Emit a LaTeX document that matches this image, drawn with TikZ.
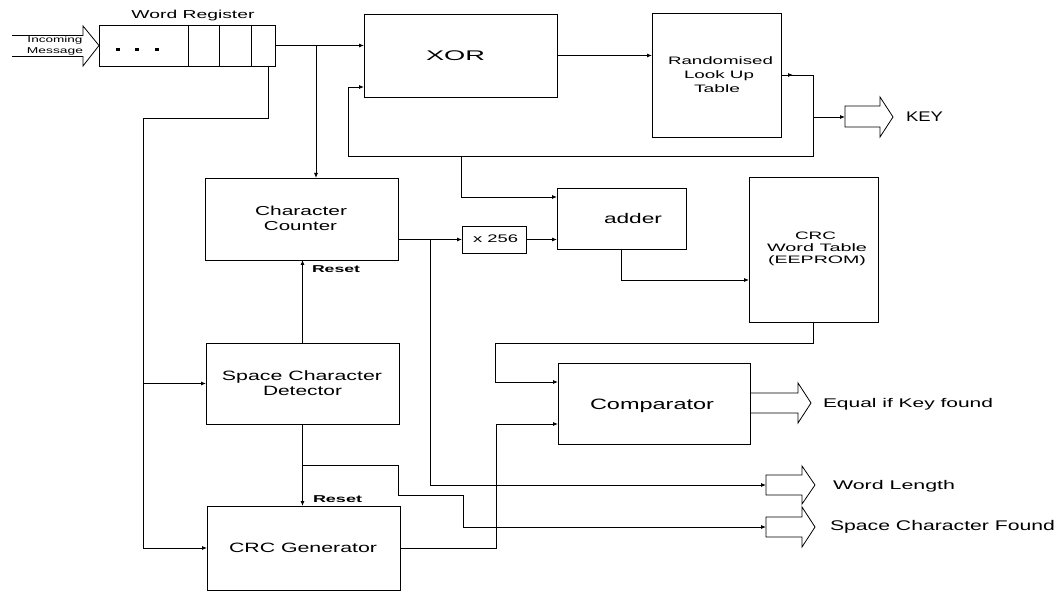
\documentclass[tikz,border=0pt]{standalone}
\usepackage{fontspec}
\setmainfont{Liberation Sans}
\usetikzlibrary{arrows.meta}
\newcommand{\sw}[2]{\resizebox{#1pt}{\height}{#2}}
\begin{document}
\begin{tikzpicture}[x=1pt,y=-1pt,line width=0.8pt,
  blk/.style={draw,inner sep=0pt,outer sep=0pt},
  arr/.style={-{Latex[length=5pt,width=4pt]}},
  lbl/.style={inner sep=0pt,outer sep=0pt},
  harrow/.style={draw,line join=miter}]
\fill[white] (0,0) rectangle (1059,593);
\useasboundingbox (0,0) rectangle (1059,593);

% ---------- boxes
\node[blk,minimum width=176pt,minimum height=41pt] (reg) at (187,45.5) {};
\node[blk,minimum width=193pt,minimum height=83pt] (xor) at (460.5,55.5) {};
\node[blk,minimum width=129pt,minimum height=124pt] (lut) at (716.5,75) {};
\node[blk,minimum width=193pt,minimum height=82pt] (cc) at (301.5,219) {};
\node[blk,minimum width=64pt,minimum height=27pt] (x256) at (494,239.5) {};
\node[blk,minimum width=129pt,minimum height=61pt] (adder) at (621.5,218.5) {};
\node[blk,minimum width=129pt,minimum height=145pt] (crct) at (813.5,249.5) {};
\node[blk,minimum width=193pt,minimum height=81pt] (scd) at (302.5,383.5) {};
\node[blk,minimum width=192pt,minimum height=81pt] (comp) at (654,403.5) {};
\node[blk,minimum width=193pt,minimum height=84pt] (crcg) at (303.5,548) {};

% register cells and dots
\foreach \x in {188,219,251} \draw (\x,25) -- (\x,66);
\foreach \x in {118,137,157} \fill (\x-2,48.5) rectangle ++(4,3);

% ---------- texts
\node[lbl,anchor=base,font=\fontsize{11.5}{14}\selectfont] (tReg) at (193,18.3) {\sw{123}{Word Register}};
\node[lbl,anchor=base,font=\fontsize{8.5}{11}\selectfont] (tInc1) at (55,42.7) {\sw{55}{Incoming}};
\node[lbl,anchor=base,font=\fontsize{8.5}{11}\selectfont] (tInc2) at (55,53.5) {\sw{56}{Message}};
\node[lbl,anchor=base,font=\fontsize{14}{16}\selectfont] (tXor) at (455.5,61) {\sw{59}{XOR}};
\node[lbl,anchor=base,font=\fontsize{10.8}{13}\selectfont] (tLut1) at (720.5,64.3) {\sw{105}{Randomised}};
\node[lbl,anchor=base,font=\fontsize{10.8}{13}\selectfont] (tLut2) at (719,78.5) {\sw{70}{Look Up}};
\node[lbl,anchor=base,font=\fontsize{10.8}{13}\selectfont] (tLut3) at (717,92.7) {\sw{46}{Table}};
\node[lbl,anchor=base west,font=\fontsize{14}{16}\selectfont] (tKey) at (906,122) {\sw{37}{KEY}};
\node[lbl,anchor=base,font=\fontsize{13}{15}\selectfont] (tCc1) at (301,215.7) {\sw{92}{Character}};
\node[lbl,anchor=base,font=\fontsize{13}{15}\selectfont] (tCc2) at (300.5,231) {\sw{73}{Counter}};
\node[lbl,anchor=base west,font=\fontsize{10}{12}\selectfont\bfseries] (tRes1) at (312,273) {\sw{48}{Reset}};
\node[lbl,anchor=base,font=\fontsize{11}{13}\selectfont] (tX) at (495.5,243) {\sw{45}{x 256}};
\node[lbl,anchor=base,font=\fontsize{14}{16}\selectfont] (tAdd) at (633,224) {\sw{58}{adder}};
\node[lbl,anchor=base,font=\fontsize{10.8}{13}\selectfont] (tCt1) at (815.5,240) {\sw{41}{CRC}};
\node[lbl,anchor=base,font=\fontsize{10.8}{13}\selectfont] (tCt2) at (817,252) {\sw{100}{Word Table}};
\node[lbl,anchor=base,font=\fontsize{10.8}{13}\selectfont] (tCt3) at (817,264) {\sw{98}{(EEPROM)}};
\node[lbl,anchor=base,font=\fontsize{13.5}{16}\selectfont] (tScd1) at (302,380) {\sw{160}{Space Character}};
\node[lbl,anchor=base,font=\fontsize{13.5}{16}\selectfont] (tScd2) at (302.5,395.7) {\sw{79}{Detector}};
\node[lbl,anchor=base west,font=\fontsize{10}{12}\selectfont\bfseries] (tRes2) at (313,502) {\sw{49}{Reset}};
\node[lbl,anchor=base,font=\fontsize{13.5}{16}\selectfont] (tGen) at (303,552) {\sw{148}{CRC Generator}};
\node[lbl,anchor=base,font=\fontsize{15}{17}\selectfont] (tComp) at (652,409) {\sw{124}{Comparator}};
\node[lbl,anchor=base west,font=\fontsize{12.6}{15}\selectfont] (tEq) at (823,407) {\sw{170}{Equal if Key found}};
\node[lbl,anchor=base west,font=\fontsize{12.6}{15}\selectfont] (tWl) at (833,489) {\sw{122}{Word Length}};
\node[lbl,anchor=base west,font=\fontsize{14}{16}\selectfont] (tScf) at (830,530) {\sw{225}{Space Character Found}};

% ---------- block arrows
\draw[harrow] (12,35.5) -- (83,35.5) -- (83,26) -- (reg.west) -- (83,66) -- (83,56.5) -- (12,56.5);
\coordinate (keyin) at (845,117);
\draw[harrow] (845,106) -- (880,106) -- (880,97) -- (893,117) -- (880,137) -- (880,127) -- (845,127) -- cycle;
\draw[harrow] (comp.east |- 0,393) -- (798,393) -- (798,383) -- (811,403) -- (798,423) -- (798,413) -- (comp.east |- 0,413);
\coordinate (wlin) at (766,485);
\draw[harrow] (766,475) -- (802,475) -- (802,466) -- (815,485) -- (802,504) -- (802,495) -- (766,495) -- cycle;
\coordinate (scin) at (766,527);
\draw[harrow] (766,517) -- (802,517) -- (802,507) -- (815,527) -- (802,547) -- (802,537) -- (766,537) -- cycle;

% ---------- connectors
\coordinate (j1) at (316,45.5);
\draw[arr] (reg.east) -- (xor.west |- reg.east);
\draw[arr] (j1) -- (j1 |- cc.north);

\coordinate (r1) at (268,118);
\coordinate (r2) at (143,118);
\draw[arr] (r1 |- reg.south) -- (r1) -- (r2) -- (r2 |- crcg.west) -- (crcg.west);
\draw[arr] (r2 |- scd.west) -- (scd.west);

\draw[arr] (xor.east) -- (lut.west |- xor.east);

\coordinate (f1) at (813,75);
\coordinate (f2) at (813,156);
\coordinate (f3) at (348,156);
\coordinate (f4) at (348,87);
\coordinate (f5) at (461,156);
\coordinate (f6) at (461,197);
\coordinate (k1) at (813,117);
\draw (lut.east) -- (f1) -- (f2) -- (f3) -- (f4);
\draw[arr] (f4) -- (xor.west |- f4);
\draw[arr] (lut.east) -- ++(12,0);
\draw[arr] (f5) -- (f6) -- (f6 -| adder.west);
\draw[arr] (k1) -- (keyin);

\draw[arr] (cc.east |- x256.west) -- (x256.west);
\draw[arr] (x256.east) -- (x256.east -| adder.west);
\coordinate (c1) at (430,239.5);
\coordinate (c2) at (430,485);
\draw[arr] (c1) -- (c2) -- (wlin);

\coordinate (a1) at (621.5,280);
\draw[arr] (adder.south) -- (a1) -- (a1 -| crct.west);

\coordinate (t1) at (813.5,343);
\coordinate (t2) at (495,343);
\coordinate (t3) at (495,382);
\draw[arr] (crct.south) -- (t1) -- (t2) -- (t3) -- (t3 -| comp.west);

\coordinate (g1) at (496,548);
\coordinate (g2) at (496,424);
\draw[arr] (crcg.east) -- (g1) -- (g2) -- (g2 -| comp.west);

\draw[arr] (scd.north) -- (scd.north |- cc.south);
\draw[arr] (scd.south) -- (scd.south |- crcg.north);

\coordinate (s1) at (302.5,465);
\coordinate (s2) at (398,465);
\coordinate (s3) at (398,495);
\coordinate (s4) at (463,495);
\coordinate (s5) at (463,527);
\draw[arr] (s1) -- (s2) -- (s3) -- (s4) -- (s5) -- (scin);
\end{tikzpicture}
\end{document}
